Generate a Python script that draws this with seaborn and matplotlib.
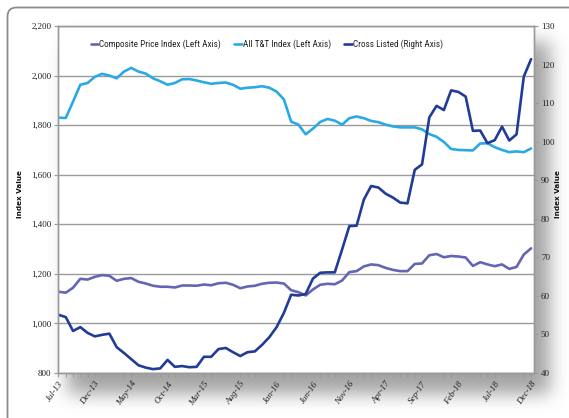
import numpy as np
import pandas as pd
import matplotlib
matplotlib.use("Agg")
import matplotlib.pyplot as plt
import seaborn as sns
from matplotlib import font_manager
from matplotlib.font_manager import FontProperties
from matplotlib.patches import FancyBboxPatch
from matplotlib.ticker import FuncFormatter, MultipleLocator

# Monthly observations, Jul-13 .. Dec-18
months = pd.date_range("2013-07-01", periods=66, freq="MS").strftime("%b-%y").tolist()

composite = [1128, 1124, 1144, 1180, 1177, 1188, 1195, 1192, 1172, 1180, 1183, 1168,
             1161, 1152, 1148, 1148, 1145, 1153, 1153, 1152, 1157, 1154, 1162, 1164,
             1156, 1142, 1149, 1152, 1160, 1164, 1165, 1161, 1134, 1126,
             1113, 1137, 1156, 1160, 1158, 1173, 1207, 1211, 1230, 1238, 1235, 1224,
             1216, 1211, 1211, 1240, 1242, 1275, 1280, 1267, 1272, 1270, 1266, 1232,
             1247, 1238, 1231, 1238, 1220, 1228, 1278, 1303]

all_tt = [1830, 1829, 1895, 1963, 1970, 1995, 2007, 2000, 1989, 2016, 2031, 2016,
          2008, 1989, 1977, 1963, 1970, 1985, 1986, 1980, 1973, 1967, 1970, 1972,
          1963, 1947, 1951, 1953, 1957, 1951, 1935, 1904, 1814, 1802,
          1763, 1786, 1813, 1825, 1818, 1802, 1828, 1835, 1828, 1817, 1812, 1802,
          1795, 1791, 1791, 1791, 1783, 1764, 1753, 1732, 1704, 1700, 1699, 1698,
          1726, 1727, 1711, 1700, 1691, 1694, 1691, 1706]

cross_listed = [55.1, 54.5, 50.9, 51.9, 50.4, 49.5, 49.9, 50.2, 46.7, 45.2, 43.6, 42.0,
                41.4, 41.0, 41.2, 43.4, 41.6, 41.8, 41.5, 41.6, 44.2, 44.2, 46.2, 46.5,
                45.4, 44.4, 45.4, 45.6, 47.3, 49.3, 51.9, 55.6, 60.3, 60.1,
                60.5, 64.5, 66.0, 66.1, 66.1, 72.0, 78.1, 78.2, 85.0, 88.5, 88.1, 86.5,
                85.5, 84.2, 84.0, 92.7, 94.1, 106.3, 109.3, 108.2, 113.3, 112.9, 111.7, 102.8,
                102.9, 99.6, 100.4, 103.9, 100.3, 101.9, 116.9, 121.4]

series_names = ["Composite Price Index (Left Axis)", "All T&T Index (Left Axis)",
                "Cross Listed (Right Axis)"]
left_ticks = list(range(800, 2201, 200))
right_ticks = list(range(40, 131, 10))

df = pd.DataFrame({"pos": np.arange(len(months)), "month": months,
                   "composite": composite, "all_tt": all_tt, "cross": cross_listed})

C_COMP = "#6466B4"
C_ALL = "#2AAAE2"
C_CROSS = "#213C96"
GRID = "#9a9a9a"


def pick(names):
    for n in names:
        try:
            font_manager.findfont(FontProperties(family=n), fallback_to_default=False)
            return n
        except Exception:
            pass
    return "DejaVu Sans"


NARROW = pick(["Liberation Sans Narrow", "Roboto Condensed", "Liberation Sans"])
SERIF = pick(["Liberation Serif", "DejaVu Serif"])

sns.set_theme(style="white")
plt.rcParams["font.family"] = ["DejaVu Sans"]

W, H = 569, 418
fig = plt.figure(figsize=(W / 100, H / 100), dpi=100)
fig.patch.set_facecolor("white")

# background layer: soft drop shadow behind the plot area + rounded frame
bg = fig.add_axes([0, 0, 1, 1], zorder=-10)
bg.set_xlim(0, W)
bg.set_ylim(H, 0)
bg.axis("off")
mask = np.zeros((H, W))
mask[42:394, 68:550] = 1.0


def gblur(a, sigma):
    r = int(3 * sigma)
    k = np.exp(-0.5 * (np.arange(-r, r + 1) / sigma) ** 2)
    k /= k.sum()
    a = np.apply_along_axis(lambda v: np.convolve(v, k, mode="same"), 0, a)
    a = np.apply_along_axis(lambda v: np.convolve(v, k, mode="same"), 1, a)
    return a


shadow = gblur(mask, 9)
rgba = np.zeros((H, W, 4))
rgba[..., :3] = 0.42
rgba[..., 3] = shadow * 0.62
bg.imshow(rgba, extent=(0, W, H, 0), aspect="auto", interpolation="bilinear")
bg.add_patch(FancyBboxPatch((7.5, 7.5), 640, 520,
                            boxstyle="round,pad=0,rounding_size=9",
                            fc="none", ec="#8c8c8c", lw=1.3))

ax = fig.add_axes([58.5 / W, 1 - 373 / H, (534 - 58.5) / W, (373 - 26) / H])
ax.set_facecolor("white")
ax2 = ax.twinx()

sns.lineplot(data=df, x="pos", y="composite", ax=ax, color=C_COMP, lw=1.9,
             label=series_names[0], legend=False)
sns.lineplot(data=df, x="pos", y="all_tt", ax=ax, color=C_ALL, lw=1.9,
             label=series_names[1], legend=False)
sns.lineplot(data=df, x="pos", y="cross", ax=ax2, color=C_CROSS, lw=1.9,
             label=series_names[2], legend=False)

ax.set_xlim(0, 65.4)
ax.set_ylim(800, 2200)
ax2.set_ylim(40, 130)
ax.set_yticks(left_ticks)
ax2.set_yticks(right_ticks)
ax.yaxis.set_major_formatter(FuncFormatter(lambda v, p: f"{v:,.0f}"))
ax.set_xticks(df["pos"][::5])
ax.set_xticklabels(df["month"][::5])
ax.xaxis.set_minor_locator(MultipleLocator(1))

ax.grid(axis="y", color=GRID, lw=1.0)
ax.grid(axis="x", visible=False)
ax2.grid(False)
for a in (ax, ax2):
    for s in a.spines.values():
        s.set_color(GRID)
        s.set_linewidth(1.0)
    a.set_xlabel("")
    a.set_ylabel("")

ax.tick_params(axis="y", which="major", direction="out", length=3, width=0.8,
               color=GRID, pad=2, labelsize=6.5, labelcolor="#222222")
ax2.tick_params(axis="y", which="major", direction="out", length=3, width=0.8,
                color=GRID, pad=2, labelsize=6.5, labelcolor="#222222")
ax.tick_params(axis="x", which="both", direction="out", length=3, width=0.8,
               color=GRID, bottom=True, pad=2)
for lbl in ax.get_yticklabels() + ax2.get_yticklabels():
    lbl.set_fontfamily(SERIF)
for lbl in ax.get_xticklabels():
    lbl.set_fontfamily(SERIF)
    lbl.set_fontstyle("italic")
    lbl.set_fontsize(6.5)
    lbl.set_color("#222222")
    lbl.set_rotation(55)
    lbl.set_ha("right")
    lbl.set_rotation_mode("anchor")

h1, l1 = ax.get_legend_handles_labels()
h2, l2 = ax2.get_legend_handles_labels()
leg = ax2.legend(h1 + h2, l1 + l2, loc="upper left", bbox_to_anchor=(0.05, 0.985),
                 ncol=3, frameon=False, handlelength=0.8, handletextpad=0.1,
                 columnspacing=1.5, prop={"family": NARROW, "size": 6.6})
for t in leg.get_texts():
    t.set_color("#222222")

fig.text(20 / W, 1 - 194 / H, "Index Value", rotation=90, ha="center", va="center",
         fontsize=5.2, fontweight="bold", color="#111111")
fig.text(558 / W, 1 - 194 / H, "Index Value", rotation=90, ha="center", va="center",
         fontsize=5.2, fontweight="bold", color="#111111")

fig.savefig("out.png", dpi=100, facecolor="white")
